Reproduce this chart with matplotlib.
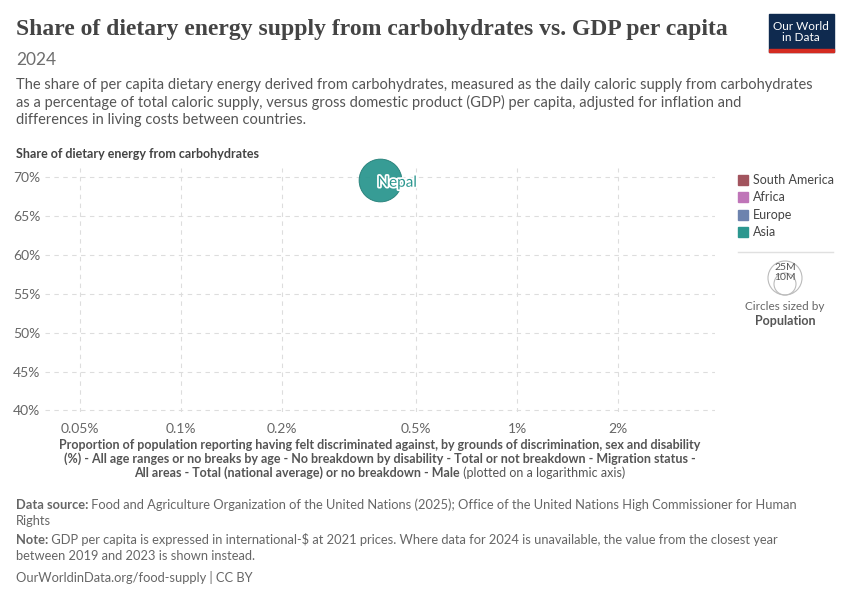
import matplotlib.pyplot as plt
import matplotlib.patheffects as pe
from matplotlib.patches import Rectangle, Circle

plt.rcParams['font.family'] = ['Lato', 'DejaVu Sans']

countries = ["Nepal"]
gdp_share = [0.39]        # x, percent (log axis)
carb_share = [69.6]       # y, percent
region = ["Asia"]

regions = ["South America", "Africa", "Europe", "Asia"]
region_colors = ["#a2545e", "#bf75b8", "#6d83ae", "#2c978f"]
xticks = [0.05, 0.1, 0.2, 0.5, 1, 2]
xticklabels = ["0.05%", "0.1%", "0.2%", "0.5%", "1%", "2%"]
yticks = [40, 45, 50, 55, 60, 65, 70]

W, H = 850, 600
fig = plt.figure(figsize=(W / 100, H / 100), dpi=100)
ax = fig.add_axes([45 / W, 1 - 412 / H, (715 - 45) / W, (412 - 168) / H])

cmap = dict(zip(regions, region_colors))
for x, y, r, name in zip(gdp_share, carb_share, region, countries):
    ax.scatter(x, y, s=950, color=cmap[r], alpha=0.95, edgecolor='#1f7a73', linewidth=0.6,
               zorder=3, clip_on=False)
    ax.text(x * 0.985, y - 0.3, name, color=cmap[r], fontsize=11, va='center', ha='left', zorder=4,
            path_effects=[pe.withStroke(linewidth=2.5, foreground='white')])

ax.set_xscale('log')
ax.set_xlim(0.0394, 3.88)
ax.set_ylim(39.8, 71.2)
ax.set_xticks(xticks)
ax.set_xticklabels(xticklabels)
ax.minorticks_off()
ax.set_yticks(yticks)
ax.set_yticklabels([f"{v}%" for v in yticks])
ax.grid(True, color='#dddddd', linestyle=(0, (4, 4)), linewidth=0.8)
for s in ax.spines.values():
    s.set_visible(False)
ax.tick_params(length=0, colors='#666666', labelsize=10)
ax.tick_params(axis='x', pad=8)

fig.text(16 / W, 1 - 30 / H, "Share of dietary energy supply from carbohydrates vs. GDP per capita",
         fontsize=17, family='Liberation Serif', weight='bold', color='#444444', va='center')
fig.text(16 / W, 1 - 60 / H, "2024", fontsize=12.5, color='#6e6e6e', va='center')
fig.text(16 / W, 1 - 78 / H,
         "The share of per capita dietary energy derived from carbohydrates, measured as the daily caloric supply from carbohydrates\n"
         "as a percentage of total caloric supply, versus gross domestic product (GDP) per capita, adjusted for inflation and\n"
         "differences in living costs between countries.",
         fontsize=10.5, color='#555555', va='top', linespacing=1.25)
fig.text(16 / W, 1 - 154 / H, "Share of dietary energy from carbohydrates", fontsize=9, color='#444444',
         weight='bold', va='center')

# logo
fig.patches.append(Rectangle((769 / W, 1 - 52 / H), 65 / W, 38 / H, transform=fig.transFigure,
                             color='#0f2a4f'))
fig.patches.append(Rectangle((769 / W, 1 - 52 / H), 65 / W, 3 / H, transform=fig.transFigure,
                             color='#d42b21'))
fig.text(801 / W, 1 - 32 / H, "Our World\nin Data", color='white', fontsize=8.5, ha='center',
         va='center', linespacing=1.0)

renderer = fig.canvas.get_renderer()

def pair(y, bold_txt, reg_txt, x=16, cx=None, size=9.3, color='#666666'):
    # bold part followed by regular part on one line
    t1 = fig.text(0, 1 - y / H, bold_txt, fontsize=size, weight='bold', color=color, va='center')
    t2 = fig.text(0, 1 - y / H, reg_txt, fontsize=size, color=color, va='center')
    w1 = t1.get_window_extent(renderer).width
    w2 = t2.get_window_extent(renderer).width
    if cx is not None:
        x = cx - (w1 + w2) / 2
    t1.set_x(x / W)
    t2.set_x((x + w1) / W)

# x-axis title
xl = ("Proportion of population reporting having felt discriminated against, by grounds of discrimination, sex and disability\n"
      "(%) - All age ranges or no breaks by age - No breakdown by disability - Total or not breakdown - Migration status -")
fig.text(380 / W, 1 - 439 / H, xl, fontsize=9, weight='bold', color='#555555', ha='center',
         va='top', linespacing=1.15)
pair(473, "All areas - Total (national average) or no breakdown - Male", " (plotted on a logarithmic axis)",
     cx=380, size=9, color='#555555')

# legend
for i, (r, c) in enumerate(zip(regions, region_colors)):
    y = 1 - (180 + i * 17.5) / H
    fig.patches.append(Rectangle((738 / W, y - 5 / H), 10 / W, 10 / H, transform=fig.transFigure, color=c))
    fig.text(753 / W, y, r, fontsize=9, color='#444444', va='center')
fig.add_artist(plt.Line2D([738 / W, 833 / W], [1 - 252 / H, 1 - 252 / H], color='#e0e0e0', lw=1))
for rad in [17, 11]:
    fig.patches.append(Circle((785 / 100, (H - 295 + rad) / 100), rad / 100,
                              transform=fig.dpi_scale_trans, fill=False, edgecolor='#bbbbbb', lw=0.8))
fig.text(785 / W, 1 - 267 / H, "25M", fontsize=7.5, color='#555555', ha='center', va='center')
fig.text(785 / W, 1 - 278 / H, "10M", fontsize=7.5, color='#555555', ha='center', va='center')
fig.text(785 / W, 1 - 307 / H, "Circles sized by", fontsize=8.5, color='#666666', ha='center', va='center')
fig.text(785 / W, 1 - 321 / H, "Population", fontsize=9, weight='bold', color='#555555', ha='center', va='center')

# footer
pair(505, "Data source:", " Food and Agriculture Organization of the United Nations (2025); Office of the United Nations High Commissioner for Human")
fig.text(16 / W, 1 - 521 / H, "Rights", fontsize=9.3, color='#666666', va='center')
pair(540, "Note:", " GDP per capita is expressed in international-$ at 2021 prices. Where data for 2024 is unavailable, the value from the closest year")
fig.text(16 / W, 1 - 556 / H, "between 2019 and 2023 is shown instead.", fontsize=9.3, color='#666666', va='center')
fig.text(16 / W, 1 - 577 / H, "OurWorldinData.org/food-supply | CC BY", fontsize=9.3, color='#666666', va='center')

fig.savefig("out.png", dpi=100)
